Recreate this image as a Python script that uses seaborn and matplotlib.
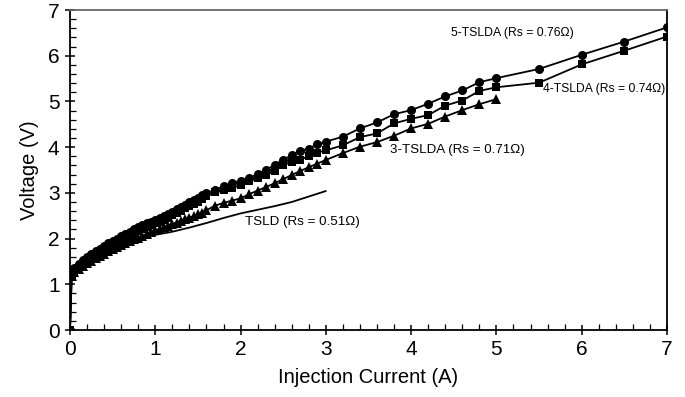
import numpy as np
import pandas as pd
import matplotlib
matplotlib.use("Agg")
import matplotlib.pyplot as plt
from matplotlib.ticker import MultipleLocator
import seaborn as sns

# ---------------- data ----------------
dense_x = [0.0, 0.02, 0.05, 0.1, 0.15, 0.2, 0.25, 0.3, 0.35, 0.4, 0.45, 0.5, 0.55, 0.6,
           0.65, 0.7, 0.75, 0.8, 0.85, 0.9, 0.95, 1.0, 1.05, 1.1, 1.15, 1.2, 1.25,
           1.3, 1.35, 1.4, 1.45, 1.5, 1.55]
mid_x = [1.6, 1.7, 1.8, 1.9, 2.0, 2.1, 2.2, 2.3, 2.4, 2.5, 2.6, 2.7, 2.8, 2.9, 3.0]
high_x = [3.2, 3.4, 3.6, 3.8, 4.0, 4.2, 4.4, 4.6, 4.8, 5.0]
top_x = [5.5, 6.0, 6.5, 7.0]

x5 = dense_x + mid_x + high_x + top_x
v5 = [0.0, 1.24, 1.35, 1.45, 1.53, 1.60, 1.66, 1.72, 1.78, 1.84, 1.90, 1.95, 2.00, 2.05,
      2.10, 2.15, 2.20, 2.25, 2.29, 2.33, 2.37, 2.41, 2.45, 2.49, 2.54, 2.59, 2.64,
      2.69, 2.74, 2.79, 2.84, 2.89, 2.95,
      3.00, 3.06, 3.15, 3.21, 3.27, 3.32, 3.42, 3.50, 3.62, 3.72, 3.83, 3.92, 3.97, 4.06, 4.12,
      4.23, 4.41, 4.54, 4.72, 4.81, 4.95, 5.11, 5.24, 5.42, 5.51,
      5.71, 6.02, 6.31, 6.62]

x4 = dense_x + mid_x + high_x + top_x
v4 = [0.0, 1.21, 1.30, 1.38, 1.45, 1.52, 1.58, 1.64, 1.70, 1.76, 1.81, 1.86, 1.91, 1.96,
      2.01, 2.06, 2.11, 2.16, 2.21, 2.25, 2.29, 2.33, 2.37, 2.41, 2.46, 2.51, 2.56,
      2.61, 2.66, 2.71, 2.76, 2.81, 2.87,
      2.93, 3.02, 3.06, 3.10, 3.17, 3.25, 3.32, 3.39, 3.48, 3.60, 3.68, 3.72, 3.81, 3.88, 3.93,
      4.04, 4.22, 4.30, 4.52, 4.62, 4.70, 4.91, 5.02, 5.23, 5.31,
      5.41, 5.81, 6.11, 6.42]

x3 = dense_x + mid_x + high_x
v3 = [0.0, 1.19, 1.26, 1.33, 1.40, 1.46, 1.52, 1.57, 1.62, 1.67, 1.72, 1.77, 1.81, 1.86,
      1.90, 1.94, 1.98, 2.02, 2.06, 2.10, 2.14, 2.18, 2.21, 2.25, 2.28, 2.32, 2.35,
      2.39, 2.42, 2.46, 2.49, 2.53, 2.57,
      2.62, 2.72, 2.78, 2.83, 2.88, 2.97, 3.05, 3.13, 3.21, 3.30, 3.39, 3.48, 3.56, 3.64, 3.72,
      3.87, 4.01, 4.11, 4.25, 4.41, 4.51, 4.67, 4.81, 4.94, 5.05]

xt = [0.0, 0.01, 0.02, 0.1, 0.2, 0.4, 0.6, 0.8, 1.0, 1.2, 1.4, 1.6, 1.8, 2.0,
      2.2, 2.4, 2.6, 2.8, 3.0]
vt = [0.0, 1.15, 1.22, 1.34, 1.46, 1.66, 1.84, 1.98, 2.08, 2.15, 2.24, 2.34, 2.45, 2.55,
      2.63, 2.71, 2.80, 2.92, 3.04]

labels = ["5-TSLDA (Rs = 0.76\u03a9)", "4-TSLDA (Rs = 0.74\u03a9)",
          "3-TSLDA (Rs = 0.71\u03a9)", "TSLD (Rs = 0.51\u03a9)"]
label_pos = [(4.47, 6.50), (5.55, 5.27), (3.75, 3.94), (2.05, 2.36)]
label_size = [8.8, 8.7, 9.6, 9.6]

x_ticks = [0, 1, 2, 3, 4, 5, 6, 7]
y_ticks = [0, 1, 2, 3, 4, 5, 6, 7]

# ---------------- plot ----------------
sns.set_style("ticks")
plt.rcParams["font.family"] = ["Liberation Sans", "DejaVu Sans"]

fig = plt.figure(figsize=(6.85, 3.97), dpi=100)
ax = fig.add_axes([70 / 685, 1 - 330 / 397, (667 - 70) / 685, (330 - 10) / 397])

common = dict(color="black", linewidth=1.3, markeredgewidth=0, ax=ax,
              estimator=None, sort=False, legend=False)
sns.lineplot(x=xt, y=vt, **common)
sns.lineplot(x=x3, y=v3, marker="^", markersize=6.5, **common)
sns.lineplot(x=x4, y=v4, marker="s", markersize=5.5, **common)
sns.lineplot(x=x5, y=v5, marker="o", markersize=6.5, **common)

for lab, (lx, ly), fs in zip(labels, label_pos, label_size):
    ax.text(lx, ly, lab, fontsize=fs, ha="left", va="center", color="black")

ax.set_xlim(0, 7)
ax.set_ylim(0, 7)
ax.set_xticks(x_ticks)
ax.set_yticks(y_ticks)
ax.xaxis.set_minor_locator(MultipleLocator(0.2))
ax.yaxis.set_minor_locator(MultipleLocator(0.2))
ax.tick_params(axis="both", which="major", labelsize=15, direction="inout",
               length=7, width=1.1, color="black", labelcolor="black", pad=4,
               bottom=True, left=True, top=False, right=False)
ax.tick_params(axis="both", which="minor", direction="in", length=4, width=0.9,
               color="black", bottom=True, left=True, top=False, right=False)

for side in ["left", "bottom", "right"]:
    ax.spines[side].set_visible(True)
    ax.spines[side].set_color("black")
    ax.spines[side].set_linewidth(1.3)
ax.spines["top"].set_visible(True)
ax.spines["top"].set_color("#666666")
ax.spines["top"].set_linewidth(1.3)

ax.set_xlabel("Injection Current (A)", fontsize=14.5, labelpad=6, color="black")
ax.set_ylabel("Voltage (V)", fontsize=14.5, labelpad=6, color="black")

fig.savefig("out.png", dpi=100)
